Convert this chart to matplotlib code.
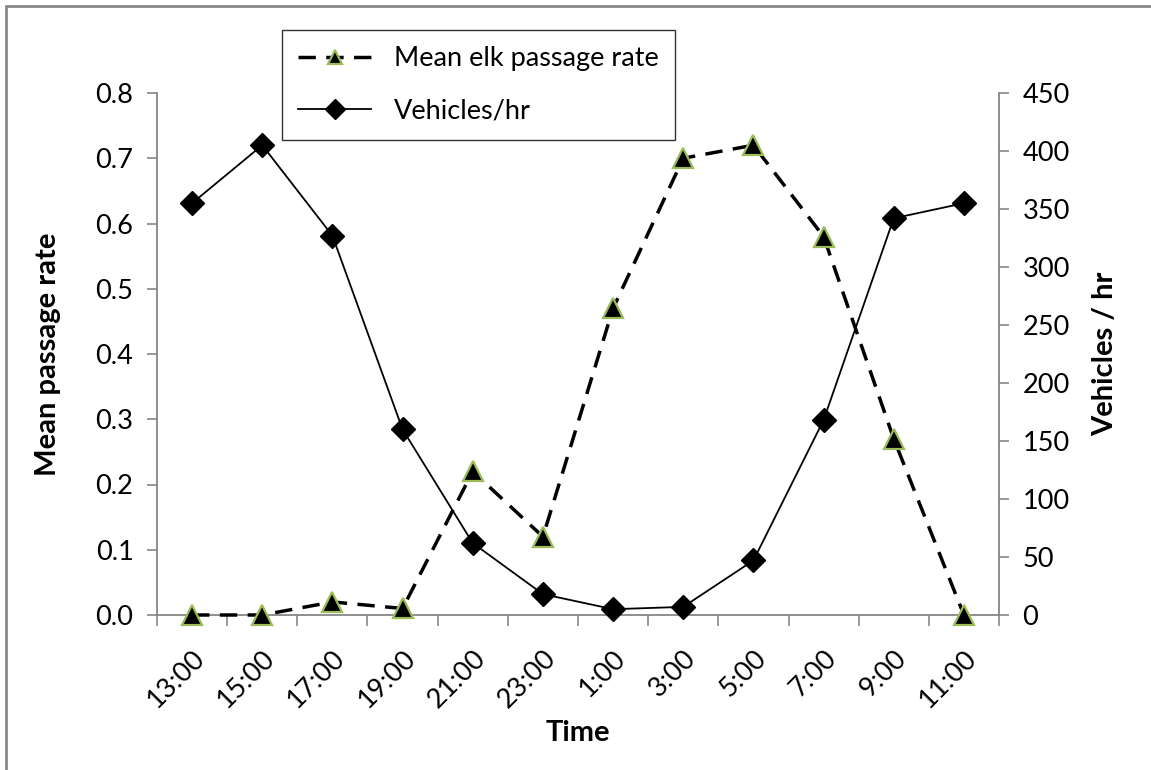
import matplotlib
matplotlib.use("Agg")
import matplotlib.pyplot as plt
from matplotlib.patches import Rectangle
from matplotlib.ticker import FormatStrFormatter

times = ["13:00", "15:00", "17:00", "19:00", "21:00", "23:00",
         "1:00", "3:00", "5:00", "7:00", "9:00", "11:00"]
elk_rate = [0.0, 0.0, 0.02, 0.01, 0.22, 0.12, 0.47, 0.70, 0.72, 0.58, 0.27, 0.0]
vehicles = [355, 405, 327, 160, 62, 18, 5, 7, 47, 168, 342, 355]
left_ticks = [0.0, 0.1, 0.2, 0.3, 0.4, 0.5, 0.6, 0.7, 0.8]
right_ticks = [0, 50, 100, 150, 200, 250, 300, 350, 400, 450]

plt.rcParams['font.family'] = ['Lato', 'DejaVu Sans']

W, H = 1151, 770
fig = plt.figure(figsize=(W / 100, H / 100), dpi=100)
fig.patch.set_facecolor('white')

L, R, T, B = 157, 999, 93, 615
ax = fig.add_axes([L / W, 1 - B / H, (R - L) / W, (B - T) / H])
ax2 = ax.twinx()

x = list(range(len(times)))
gray = '#868686'
tick_fs = 19.5
lab_fs = 21

l1, = ax.plot(x, elk_rate, color='black', lw=2.5, linestyle=(0, (5.0, 3.0)),
              marker='^', markersize=14, markerfacecolor='black',
              markeredgecolor='#9BBB59', markeredgewidth=1.6,
              label='Mean elk passage rate', zorder=3, clip_on=False)
l2, = ax2.plot(x, vehicles, color='black', lw=1.3, marker='D', markersize=12.5,
               markerfacecolor='black', markeredgecolor='black',
               label='Vehicles/hr', zorder=3, clip_on=False)

ax.set_xlim(-0.5, len(times) - 0.5)
ax.set_ylim(0, 0.8)
ax2.set_ylim(0, 450)

ax.set_yticks(left_ticks)
ax.yaxis.set_major_formatter(FormatStrFormatter('%.1f'))
ax2.set_yticks(right_ticks)

ax.set_xticks(x)
ax.set_xticklabels(times, rotation=45, ha='right', rotation_mode='anchor')
ax.set_xticks([i - 0.5 for i in range(len(times) + 1)], minor=True)
ax.tick_params(axis='x', which='major', length=0, pad=22, labelsize=tick_fs)
ax.tick_params(axis='x', which='minor', length=8, color=gray, width=1.2, direction='out')
ax.tick_params(axis='y', length=7, color=gray, width=1.2, direction='out', labelsize=tick_fs, pad=10)
ax2.tick_params(axis='y', length=7, color=gray, width=1.2, direction='out', labelsize=tick_fs, pad=10)

for a in (ax, ax2):
    a.spines['top'].set_visible(False)
    for s in ('left', 'right', 'bottom'):
        a.spines[s].set_color(gray)
        a.spines[s].set_linewidth(1.3)
ax.spines['right'].set_visible(False)
ax2.spines['left'].set_visible(False)
ax2.spines['bottom'].set_visible(False)

ax.set_ylabel('Mean passage rate', fontsize=lab_fs, fontweight='bold')
ax2.set_ylabel('Vehicles / hr', fontsize=lab_fs, fontweight='bold')
ax.set_xlabel('Time', fontsize=lab_fs, fontweight='bold')
ax.yaxis.set_label_coords(48 / W, 1 - ((T + B) / 2) / H, transform=fig.transFigure)
ax2.yaxis.set_label_coords(1105 / W, 1 - ((T + B) / 2) / H, transform=fig.transFigure)
ax.yaxis.label.set_va('center')
ax2.yaxis.label.set_va('center')
ax.xaxis.set_label_coords(578 / W, 1 - 733 / H, transform=fig.transFigure)
ax.xaxis.label.set_va('center')

leg = fig.legend(handles=[l1, l2], loc='upper left',
                 bbox_to_anchor=(282 / W, 1 - 30 / H), bbox_transform=fig.transFigure,
                 fontsize=19.5, frameon=True, fancybox=False, borderaxespad=0,
                 handlelength=2.7, borderpad=0.6, labelspacing=1.0, handletextpad=0.85)
leg.get_frame().set_edgecolor('black')
leg.get_frame().set_linewidth(1.0)
for h in leg.legend_handles:
    h.set_markersize(10)

fig.patches.append(Rectangle((6 / W, -0.1), 1.2, 1.1 - 6 / H, transform=fig.transFigure,
                             fill=False, edgecolor='#8a8a8a', lw=2, zorder=0))

fig.savefig('out.png', dpi=100)
